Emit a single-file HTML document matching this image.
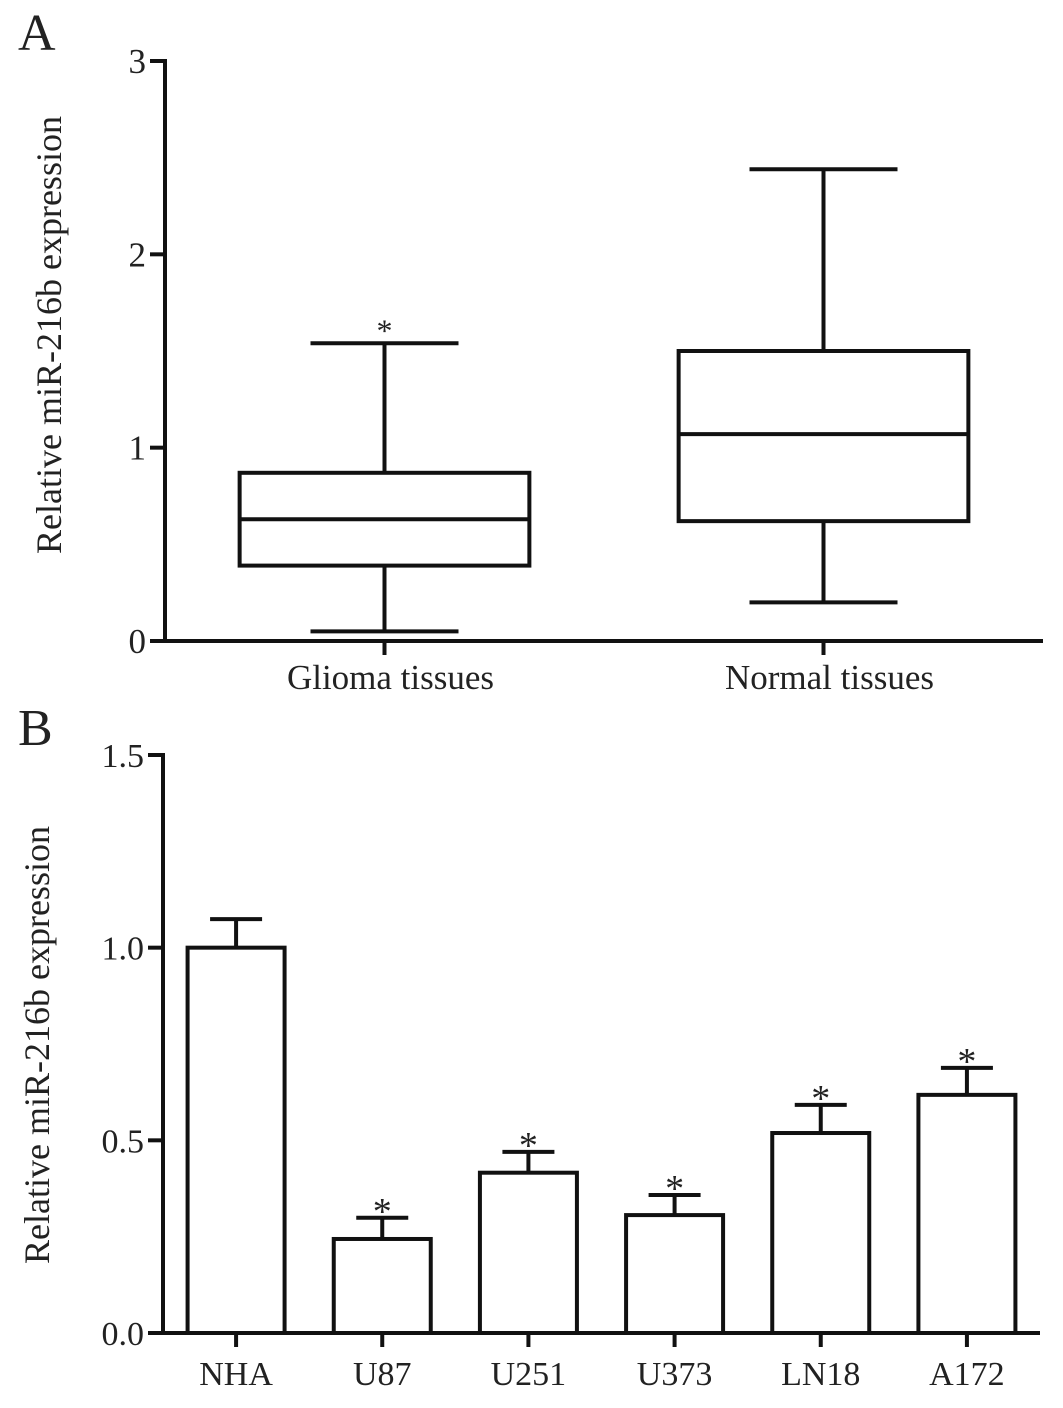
<!DOCTYPE html>
<html><head><meta charset="utf-8"><style>
body{margin:0;background:#fff}
svg text{font-family:"Liberation Serif",serif;fill:#222}
</style></head><body>
<svg id="fig" width="1063" height="1403" viewBox="0 0 1063 1403" xmlns="http://www.w3.org/2000/svg">
<text x="18" y="50" font-size="52">A</text>
<text x="18" y="745" font-size="52">B</text>
<text transform="translate(61,335) rotate(-90)" text-anchor="middle" font-size="36">Relative miR-216b expression</text>
<text transform="translate(49,1045) rotate(-90)" text-anchor="middle" font-size="36">Relative miR-216b expression</text>
<g id="ga"></g><g id="gb"></g>
</svg>
<script>
const boxCategories=["Glioma tissues","Normal tissues"];
const boxMin=[0.05,0.20];
const boxQ1=[0.39,0.62];
const boxMedian=[0.63,1.07];
const boxQ3=[0.87,1.50];
const boxMax=[1.54,2.44];
const boxStars=[true,false];
const boxTicks=[0,1,2,3];

const barCategories=["NHA","U87","U251","U373","LN18","A172"];
const barValues=[1.0,0.244,0.416,0.306,0.519,0.618];
const barErrors=[0.074,0.055,0.054,0.052,0.073,0.070];
const barStars=[false,true,true,true,true,true];
const barTicks=["0.0","0.5","1.0","1.5"];

const NS="http://www.w3.org/2000/svg";
function mk(p,t,a){const e=document.createElementNS(NS,t);for(const k in a)e.setAttribute(k,a[k]);p.appendChild(e);return e;}
const SW=4;
// Panel A
const ga=document.getElementById('ga');
const ax0=165,ax1=1043,ay0=641,ay3=61;
const yA=v=>ay0-(v/3)*(ay0-ay3);
const bandA=(ax1-ax0)/boxCategories.length;
const xA=i=>ax0+bandA*(i+0.5);
let e;
e=mk(ga,'line',{x1:ax0,y1:yA(3)-2,x2:ax0,y2:ay0+2,stroke:'#111','stroke-width':SW});

e=mk(ga,'line',{x1:ax0-2,y1:ay0,x2:ax1,y2:ay0,stroke:'#111','stroke-width':SW});

boxTicks.forEach(t=>{
 e=mk(ga,'line',{x1:ax0-15,y1:yA(t),x2:ax0,y2:yA(t),stroke:'#111','stroke-width':SW});
 
 e=mk(ga,'text',{x:ax0-19,y:yA(t)+12,'text-anchor':'end','font-size':35});e.textContent=t;
 
});
boxCategories.forEach((c,i)=>{
 const cx=xA(i),hw=bandA*0.33,cw=74;
 e=mk(ga,'line',{x1:cx,y1:ay0,x2:cx,y2:ay0+14,stroke:'#111','stroke-width':SW});
 
 e=mk(ga,'text',{x:cx+6,y:689,'text-anchor':'middle','font-size':35});e.textContent=c;
 
 const g=mk(ga,'g',{stroke:'#111','stroke-width':SW,fill:'none'});
 
 
 mk(g,'line',{x1:cx,y1:yA(boxMax[i]),x2:cx,y2:yA(boxQ3[i])});
 mk(g,'line',{x1:cx,y1:yA(boxQ1[i]),x2:cx,y2:yA(boxMin[i])});
 mk(g,'line',{x1:cx-cw,y1:yA(boxMax[i]),x2:cx+cw,y2:yA(boxMax[i])});
 mk(g,'line',{x1:cx-cw,y1:yA(boxMin[i]),x2:cx+cw,y2:yA(boxMin[i])});
 mk(g,'rect',{x:cx-hw,y:yA(boxQ3[i]),width:2*hw,height:yA(boxQ1[i])-yA(boxQ3[i])});
 mk(g,'line',{x1:cx-hw,y1:yA(boxMedian[i]),x2:cx+hw,y2:yA(boxMedian[i])});
 if(boxStars[i]){e=mk(ga,'text',{x:cx,y:yA(boxMax[i])-2,'text-anchor':'middle','font-size':32});e.textContent='*';
 }
});
// Panel B
const gb=document.getElementById('gb');
const bx0=163,bx1=1040,by0=1333,byMax=755;
const yB=v=>by0-(v/1.5)*(by0-byMax);
const bandB=(bx1-bx0)/barCategories.length;
const xB=i=>bx0+bandB*(i+0.5);
e=mk(gb,'line',{x1:bx0,y1:yB(1.5)-2,x2:bx0,y2:by0+2,stroke:'#111','stroke-width':SW});

e=mk(gb,'line',{x1:bx0-2,y1:by0,x2:bx1,y2:by0,stroke:'#111','stroke-width':SW});

barTicks.forEach(t=>{
 const v=parseFloat(t);
 e=mk(gb,'line',{x1:bx0-15,y1:yB(v),x2:bx0,y2:yB(v),stroke:'#111','stroke-width':SW});
 
 e=mk(gb,'text',{x:bx0-19,y:yB(v)+12,'text-anchor':'end','font-size':34});e.textContent=t;
 
});
barCategories.forEach((c,i)=>{
 const cx=xB(i),hw=48.5,cw=26;
 e=mk(gb,'line',{x1:cx,y1:by0,x2:cx,y2:by0+14,stroke:'#111','stroke-width':SW});
 
 e=mk(gb,'text',{x:cx,y:1385,'text-anchor':'middle','font-size':34});e.textContent=c;
 
 const top=yB(barValues[i]+barErrors[i]);
 e=mk(gb,'line',{x1:cx,y1:yB(barValues[i]),x2:cx,y2:top,stroke:'#111','stroke-width':SW});
 
 e=mk(gb,'line',{x1:cx-cw,y1:top,x2:cx+cw,y2:top,stroke:'#111','stroke-width':SW});
 
 e=mk(gb,'rect',{x:cx-hw,y:yB(barValues[i]),width:2*hw,height:by0-yB(barValues[i]),stroke:'#111','stroke-width':SW,fill:'#fff'});
 
 if(barStars[i]){e=mk(gb,'text',{x:cx,y:top+6,'text-anchor':'middle','font-size':38});e.textContent='*';
 }
});
</script>
</body></html>
